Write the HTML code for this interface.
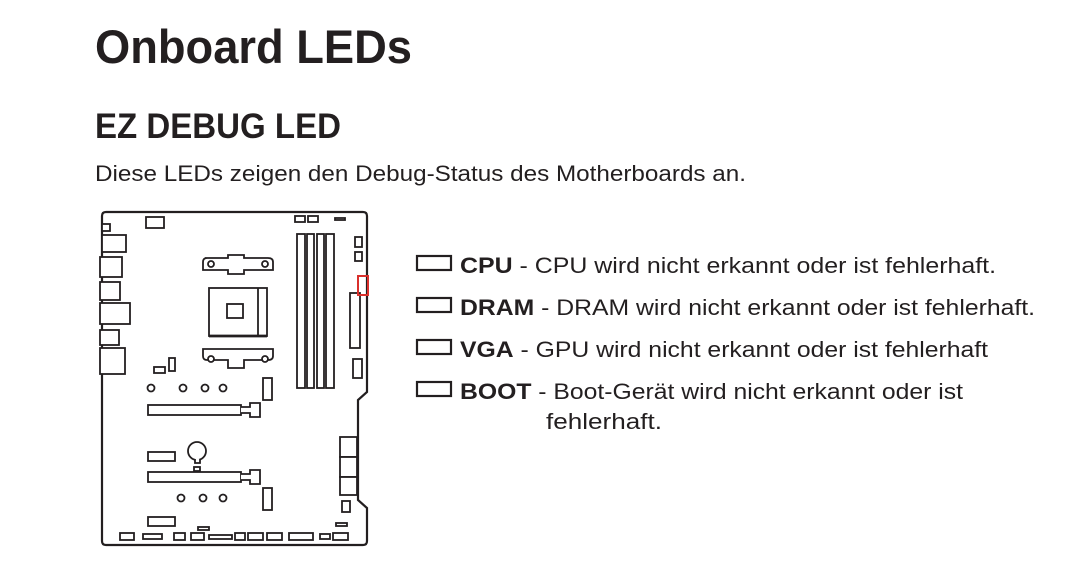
<!DOCTYPE html>
<html><head><meta charset="utf-8"><style>
html,body{margin:0;padding:0;background:#fff;}
svg{display:block;}
text{font-family:"Liberation Sans",sans-serif;fill:#231f20;}
</style></head><body>
<svg width="1088" height="569" viewBox="0 0 1088 569" xmlns="http://www.w3.org/2000/svg">
<text x="95" y="63" font-size="47" font-weight="bold" textLength="317" lengthAdjust="spacingAndGlyphs">Onboard LEDs</text>
<text x="95" y="138" font-size="35" font-weight="bold" textLength="246" lengthAdjust="spacingAndGlyphs">EZ DEBUG LED</text>
<text x="95" y="181" font-size="22" textLength="651" lengthAdjust="spacingAndGlyphs">Diese LEDs zeigen den Debug-Status des Motherboards an.</text>

<g fill="none" stroke="#231f20" stroke-width="2.2">
<path d="M106,212 H363 Q367,212 367,216 V392 L358,400 V500 L367,508 V541 Q367,545 363,545 H106 Q102,545 102,541 V216 Q102,212 106,212 Z"/>
</g>
<g fill="#fff" stroke="#231f20" stroke-width="1.8">
<rect x="146" y="217" width="18" height="11"/>
<rect x="295" y="216" width="10" height="6"/>
<rect x="308" y="216" width="10" height="6"/>
<rect x="335" y="218" width="10" height="2"/>
<rect x="102" y="224" width="8" height="7"/>
<rect x="102" y="235" width="24" height="17"/>
<rect x="100" y="257" width="22" height="20"/>
<rect x="100" y="282" width="20" height="18"/>
<rect x="100" y="303" width="30" height="21"/>
<rect x="100" y="330" width="19" height="15"/>
<rect x="100" y="348" width="25" height="26"/>
<rect x="297" y="234" width="8" height="154"/>
<rect x="307" y="234" width="7" height="154"/>
<rect x="317" y="234" width="7" height="154"/>
<rect x="326" y="234" width="8" height="154"/>
<rect x="355" y="237" width="7" height="10"/>
<rect x="355" y="252" width="7" height="9"/>
<rect x="350" y="293" width="10" height="55"/>
<rect x="353" y="359" width="9" height="19"/>
<rect x="209" y="288" width="58" height="48"/>
<rect x="227" y="304" width="16" height="14"/>
<line x1="258" y1="288" x2="258" y2="336"/>
<line x1="209" y1="336" x2="267" y2="336" stroke-width="2.8"/>
<path d="M205,258 H228 V255 H244 V258 H268 Q273,258 273,262 V270 H244 V274 H228 V270 H203 V262 Q203,258 207,258 Z"/>
<circle cx="211" cy="264" r="3"/><circle cx="265" cy="264" r="3"/>
<path d="M205,349 H273 V356 Q273,360 268,360 H244 V368 H228 V360 H207 Q203,360 203,356 V349 Z"/>
<circle cx="211" cy="359" r="3"/><circle cx="265" cy="359" r="3"/>
<rect x="154" y="367" width="11" height="6"/>
<rect x="169" y="358" width="6" height="13"/>
<circle cx="151" cy="388" r="3.5"/><circle cx="183" cy="388" r="3.5"/><circle cx="205" cy="388" r="3.5"/><circle cx="223" cy="388" r="3.5"/>
<rect x="263" y="378" width="9" height="22"/>
<rect x="148" y="405" width="93" height="10"/>
<path d="M241,407 H250 V403 H260 V417 H250 V413 H241"/>
<rect x="340" y="437" width="17" height="20"/>
<rect x="340" y="457" width="17" height="20"/>
<rect x="340" y="477" width="17" height="18"/>
<rect x="342" y="501" width="8" height="11"/>
<rect x="336" y="523" width="11" height="3"/>
<rect x="148" y="452" width="27" height="9"/>
<circle cx="197" cy="451" r="9"/>
<path d="M195,459 V463 H200 V459"/>
<rect x="194" y="467" width="6" height="4"/>
<rect x="148" y="472" width="93" height="10"/>
<path d="M241,474 H250 V470 H260 V484 H250 V480 H241"/>
<circle cx="181" cy="498" r="3.5"/><circle cx="203" cy="498" r="3.5"/><circle cx="223" cy="498" r="3.5"/>
<rect x="263" y="488" width="9" height="22"/>
<rect x="148" y="517" width="27" height="9"/>
<rect x="198" y="527" width="11" height="3"/>
<rect x="120" y="533" width="14" height="7"/>
<rect x="143" y="534" width="19" height="5"/>
<rect x="174" y="533" width="11" height="7"/>
<rect x="191" y="533" width="13" height="7"/>
<rect x="209" y="535" width="23" height="4"/>
<rect x="235" y="533" width="10" height="7"/>
<rect x="248" y="533" width="15" height="7"/>
<rect x="267" y="533" width="15" height="7"/>
<rect x="289" y="533" width="24" height="7"/>
<rect x="320" y="534" width="10" height="5"/>
<rect x="333" y="533" width="15" height="7"/>
</g>
<rect x="358" y="276" width="10" height="19" fill="none" stroke="#d9302c" stroke-width="2"/>

<g fill="none" stroke="#231f20" stroke-width="2.2">
<rect x="417" y="256" width="34" height="14"/>
<rect x="417" y="298" width="34" height="14"/>
<rect x="417" y="340" width="34" height="14"/>
<rect x="417" y="382" width="34" height="14"/>
</g>
<g font-size="22">
<text x="460" y="273" textLength="536" lengthAdjust="spacingAndGlyphs"><tspan font-weight="bold">CPU</tspan> - CPU wird nicht erkannt oder ist fehlerhaft.</text>
<text x="460" y="315" textLength="575" lengthAdjust="spacingAndGlyphs"><tspan font-weight="bold">DRAM</tspan> - DRAM wird nicht erkannt oder ist fehlerhaft.</text>
<text x="460" y="357" textLength="528" lengthAdjust="spacingAndGlyphs"><tspan font-weight="bold">VGA</tspan> - GPU wird nicht erkannt oder ist fehlerhaft</text>
<text x="460" y="399" textLength="503" lengthAdjust="spacingAndGlyphs"><tspan font-weight="bold">BOOT</tspan> - Boot-Gerät wird nicht erkannt oder ist</text>
<text x="546" y="429" textLength="116" lengthAdjust="spacingAndGlyphs">fehlerhaft.</text>
</g>
</svg>
</body></html>
